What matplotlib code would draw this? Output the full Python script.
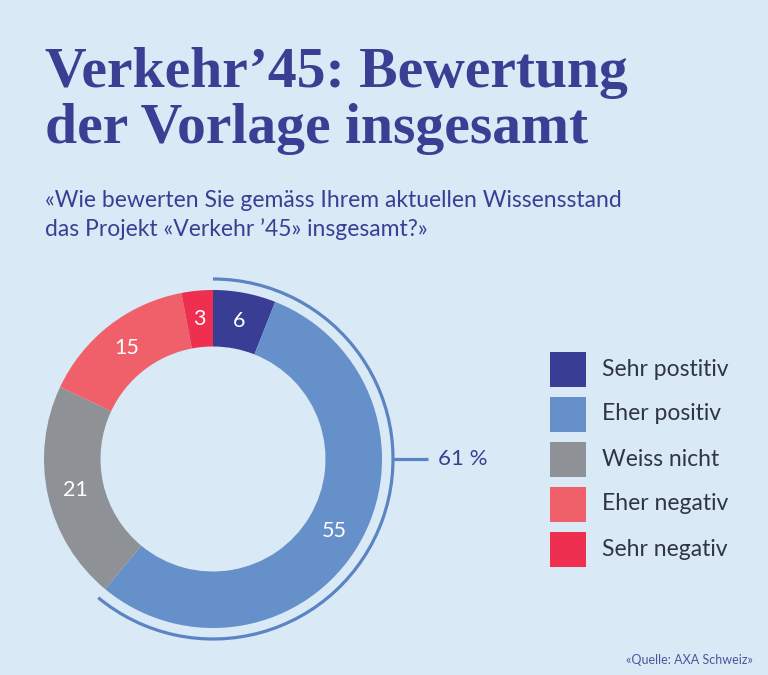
import matplotlib
matplotlib.use("Agg")
import matplotlib.pyplot as plt
from matplotlib.patches import Arc, Rectangle
import numpy as np

categories = ["Sehr postitiv", "Eher positiv", "Weiss nicht", "Eher negativ", "Sehr negativ"]
values = [6, 55, 21, 15, 3]
colors = ["#3a3d94", "#6690c9", "#8e9196", "#f0606b", "#ee2f4f"]
title = "Verkehr’45: Bewertung\nder Vorlage insgesamt"
subtitle = "«Wie bewerten Sie gemäss Ihrem aktuellen Wissensstand\ndas Projekt «Verkehr ’45» insgesamt?»"
source = "«Quelle: AXA Schweiz»"

BG = "#d9e9f6"
NAVY = "#3b3f94"
W, H = 768, 675

fig = plt.figure(figsize=(W / 100, H / 100), dpi=100, facecolor=BG)
ax = fig.add_axes([0, 0, 1, 1])
ax.set_facecolor(BG)

cx, cy = 213, H - 459
r_out, r_in = 169, 112.5

wedges, _ = ax.pie(values, colors=colors, startangle=90, counterclock=False,
                   radius=r_out, center=(cx, cy),
                   wedgeprops=dict(width=r_out - r_in, linewidth=0))
ax.set_xlim(0, W)
ax.set_ylim(0, H)
ax.set_aspect("equal")
ax.axis("off")

# value labels
cum = 0
r_mid = (r_out + r_in) / 2
for v in values:
    ang = np.deg2rad(90 - (cum + v / 2) * 3.6)
    ax.text(cx + r_mid * np.cos(ang), cy + r_mid * np.sin(ang), str(v),
            color="white", fontsize=15.5, ha="center", va="center", family="Lato")
    cum += v

# positive bracket arc
pos_total = values[0] + values[1]
r_arc = 180
ax.add_patch(Arc((cx, cy), 2 * r_arc, 2 * r_arc, theta1=90 - pos_total * 3.6, theta2=90,
                 color="#5b84c4", lw=2.3))
ax.plot([cx + r_arc, cx + 215], [cy, cy], color="#5b84c4", lw=2.3, solid_capstyle="butt")
ax.text(cx + 225, cy, f"{pos_total} %", color=NAVY, fontsize=16, ha="left", va="center",
        family="Lato")

# legend
for i, (c, lab) in enumerate(zip(colors, categories)):
    yc = H - (369 + 45 * i)
    ax.add_patch(Rectangle((550, yc - 17.5), 36, 35, facecolor=c, edgecolor="none"))
    ax.text(602, yc, lab, color="#2f3642", fontsize=16.5, ha="left", va="center", family="Lato")

fig.text(45 / W, 1 - 47 / H, title, color=NAVY, fontsize=41.5, fontweight="bold",
         family="Liberation Serif", ha="left", va="top", linespacing=1.1)
fig.text(45 / W, 1 - 190 / H, subtitle, color=NAVY, fontsize=16.5, family="Lato",
         ha="left", va="top", linespacing=1.42)
fig.text(753 / W, 1 - 660 / H, source, color="#50559c", fontsize=9, family="Lato",
         ha="right", va="center")

fig.savefig("out.png", dpi=100, facecolor=BG)
